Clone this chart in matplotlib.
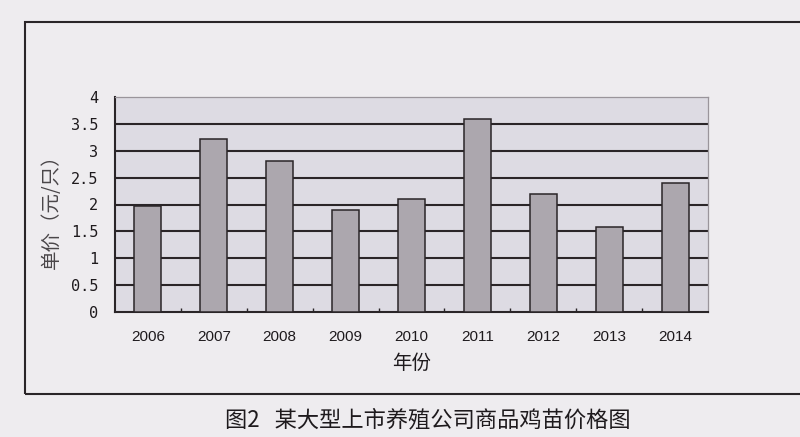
import numpy as np
import matplotlib
matplotlib.use("Agg")
import matplotlib.pyplot as plt
from matplotlib.patches import Rectangle

plt.rcParams['font.family'] = ['Noto Sans CJK SC', 'DejaVu Sans']

# Data: chick unit price by year
years = ["2006", "2007", "2008", "2009", "2010", "2011", "2012", "2013", "2014"]
prices = [1.98, 3.21, 2.81, 1.90, 2.10, 3.60, 2.20, 1.59, 2.40]
y_ticks = [0, 0.5, 1, 1.5, 2, 2.5, 3, 3.5, 4]
y_tick_labels = ["0", "0.5", "1", "1.5", "2", "2.5", "3", "3.5", "4"]

ylabel = "单价（元/只）"
xlabel = "年份"
caption = "图2   某大型上市养殖公司商品鸡苗价格图"

W, H = 800, 437
paper = "#eeecef"
plot_bg = "#dddbe3"
bar_fill = "#aca7ae"
ink = "#2a2528"

fig = plt.figure(figsize=(W / 100, H / 100), dpi=100)
fig.patch.set_facecolor(paper)

# outer frame around the chart (runs off the right edge)
fig.patches.append(Rectangle((25 / W, 1 - 394 / H), (840 - 25) / W, (394 - 22) / H,
                             transform=fig.transFigure, fill=False,
                             lw=1.5, ec=ink, zorder=0))

ax = fig.add_axes([115 / W, 1 - 312 / H, 593 / W, 215 / H])
ax.set_facecolor(plot_bg)

x = np.arange(len(years))
ax.bar(x, prices, width=0.41, color=bar_fill, edgecolor=ink, linewidth=1.1, zorder=3)

# horizontal gridlines between the bottom and top edges
for v in y_ticks[1:-1]:
    ax.axhline(v, color=ink, lw=1.5, zorder=1)

ax.set_xlim(-0.5, len(years) - 0.5)
ax.set_ylim(y_ticks[0], y_ticks[-1])

ax.set_xticks(x)
ax.set_xticklabels(years, fontfamily="Liberation Sans", fontsize=11, color="#1e1a1d")
ax.set_xticks(np.arange(0.5, len(years) - 0.5, 1), minor=True)
ax.tick_params(axis="x", which="major", length=0, pad=13)
ax.tick_params(axis="x", which="minor", direction="in", length=3, width=1, color=ink)

ax.set_yticks(y_ticks)
ax.set_yticklabels(y_tick_labels, fontfamily="DejaVu Sans Mono", fontsize=11, color="#1e1a1d")
ax.tick_params(axis="y", length=0, pad=12)

for side in ("left", "bottom"):
    ax.spines[side].set_color(ink)
    ax.spines[side].set_linewidth(1.5)
for side in ("top", "right"):
    ax.spines[side].set_color("#9a959b")
    ax.spines[side].set_linewidth(0.9)

ax.set_ylabel(ylabel, fontsize=14, color="#4a4649")
ax.yaxis.set_label_coords(-0.089, 0.49)
ax.set_xlabel(xlabel, fontsize=14, color="#1e1a1d")
ax.xaxis.set_label_coords(0.5, -0.19)

fig.text(428 / W, 1 - 420 / H, caption, ha="center", va="center",
         fontsize=16, color="#1e1a1d")

fig.savefig("out.png", dpi=100, facecolor=fig.get_facecolor())
